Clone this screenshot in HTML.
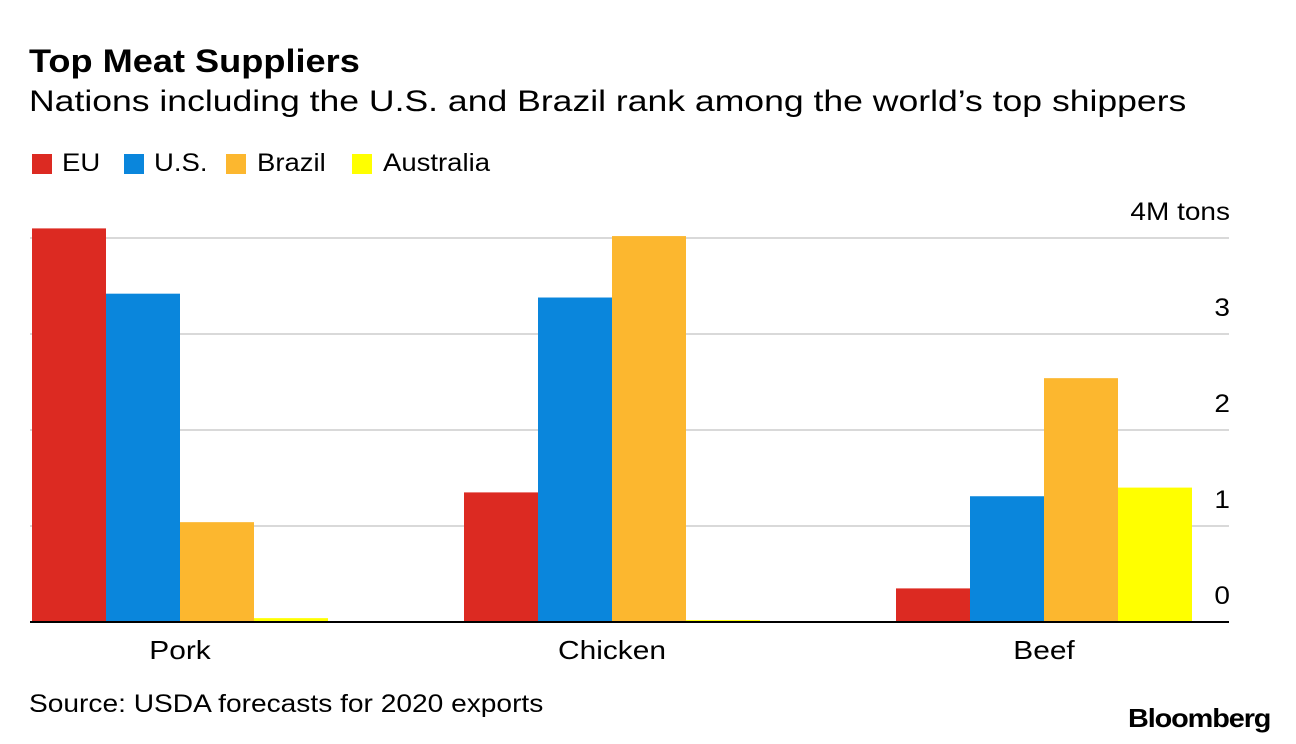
<!DOCTYPE html>
<html><head><meta charset="utf-8"><style>
body{margin:0;background:#fff;font-family:"Liberation Sans",Arial,sans-serif;}
#w{position:relative;width:1296px;height:744px;overflow:hidden;background:#fff;}
.t{position:absolute;white-space:nowrap;color:#000;line-height:1;transform-origin:0 0;}
.sq{position:absolute;width:20px;height:20px;top:154px;}
</style></head><body>
<div id="w">
<div class="t" style="left:29px;top:45px;font-size:32px;font-weight:bold;transform:scaleX(1.13);">Top Meat Suppliers</div>
<div class="t" style="left:29px;top:87px;font-size:30px;transform:scaleX(1.185);">Nations including the U.S. and Brazil rank among the world’s top shippers</div>
<div class="sq" style="left:32px;background:#dc2a22"></div>
<div class="t" style="left:62px;top:151px;font-size:25px;transform:scaleX(1.1);">EU</div>
<div class="sq" style="left:124px;background:#0a86dc"></div>
<div class="t" style="left:154px;top:151px;font-size:25px;transform:scaleX(1.1);">U.S.</div>
<div class="sq" style="left:226px;background:#fcb72f"></div>
<div class="t" style="left:257px;top:151px;font-size:25px;transform:scaleX(1.1);">Brazil</div>
<div class="sq" style="left:352px;background:#ffff00"></div>
<div class="t" style="left:383px;top:151px;font-size:25px;transform:scaleX(1.1);">Australia</div>
<svg id="plot" width="1296" height="744" style="position:absolute;left:0;top:0"></svg>
<div class="t" style="left:29px;top:692px;font-size:25px;transform:scaleX(1.125);">Source: USDA forecasts for 2020 exports</div>
<div class="t" style="left:1128px;top:705px;font-size:26px;font-weight:bold;letter-spacing:-1px;transform:scaleX(1.11);">Bloomberg</div>
</div>
<script>
const categories=["Pork","Chicken","Beef"];
const seriesNames=["EU","U.S.","Brazil","Australia"];
const euValues=[4.10,1.35,0.35];
const usValues=[3.42,3.38,1.31];
const brazilValues=[1.04,4.02,2.54];
const australiaValues=[0.04,0.02,1.40];
const yTicks=[0,1,2,3,4];
const yTickLabels=["0","1","2","3","4M tons"];
const colors=["#dc2a22","#0a86dc","#fcb72f","#ffff00"];
const series=[euValues,usValues,brazilValues,australiaValues];
const NS="http://www.w3.org/2000/svg";
const svg=document.getElementById('plot');
const y0=622,pxPerUnit=96,xLeft=30,xRight=1229,groupStart=32,groupStep=432,barW=74;
function y(v){return y0-v*pxPerUnit;}
function x(ci,si){return groupStart+ci*groupStep+si*barW;}
function mk(tag,attrs){const e=document.createElementNS(NS,tag);for(const k in attrs)e.setAttribute(k,attrs[k]);svg.appendChild(e);return e;}
yTicks.forEach((t,i)=>{
  if(t>0){const l=mk('line',{x1:xLeft,x2:xRight,y1:y(t),y2:y(t),stroke:'#d9d9d9','stroke-width':2});
  
  }
  const tx=mk('text',{x:0,y:0,transform:'translate(1230,'+(y(t)-18)+') scale(1.12,1)','text-anchor':'end','font-size':25,'font-family':'Liberation Sans, Arial, sans-serif',fill:'#000'});
  tx.textContent=yTickLabels[i];
  
  
});
series.forEach((vals,si)=>{
  vals.forEach((v,ci)=>{
    const r=mk('rect',{x:x(ci,si),y:y(v),width:barW,height:y0-y(v),fill:colors[si]});
    
    
  });
});
const base=mk('line',{x1:xLeft,x2:xRight,y1:y0,y2:y0,stroke:'#000','stroke-width':2});


categories.forEach((c,ci)=>{
  const tx=mk('text',{x:0,y:0,transform:'translate('+x(ci,2)+',659) scale(1.15,1)','text-anchor':'middle','font-size':26,'font-family':'Liberation Sans, Arial, sans-serif',fill:'#000'});
  tx.textContent=c;
  
  
});
</script>
</body></html>
